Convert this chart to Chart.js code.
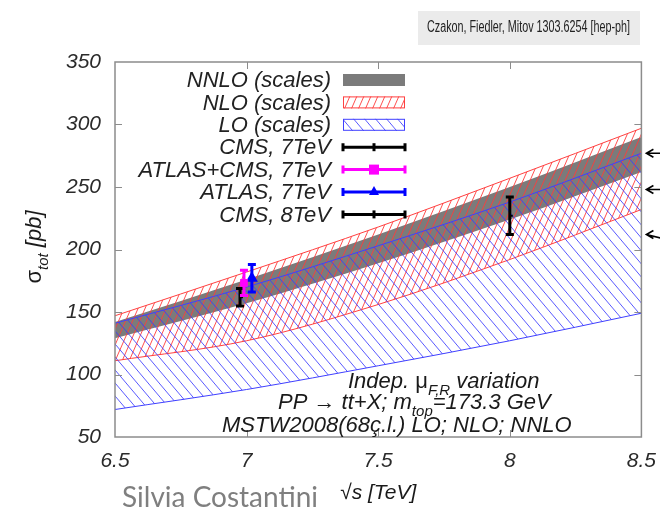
<!DOCTYPE html>
<html>
<head>
<meta charset="utf-8">
<script src="https://cdn.jsdelivr.net/npm/chart.js@4/dist/chart.umd.min.js"></script>
<style>
  html, body { margin: 0; padding: 0; background: #fff; }
  .chart-wrap { width: 660px; height: 517px; position: relative; }
</style>
</head>
<body>
<div class="chart-wrap"><canvas id="ttbar-xsec"></canvas></div>
<script>
// theory bands (pb) vs sqrt(s) in TeV
const energies = [6.5, 7, 7.5, 8, 8.5];
const nnloUp = [142, 176, 212, 250, 290];
const nnloDown = [129, 157, 189, 224, 262];
const nloUp = [147, 182, 218, 257, 297];
const nloDown = [111, 127, 156, 192, 232];
const loUp = [141, 170, 203, 238, 277];
const loDown = [72, 88, 107, 127, 149];

// measurements
const measNames = ["CMS, 7TeV", "ATLAS+CMS, 7TeV", "ATLAS, 7TeV", "CMS, 8TeV"];
const measSqrtS = [6.975, 6.99, 7.02, 8.0];
const measXsec = [161.9, 173.3, 177, 227];
const measErr = [7, 10.1, 11, 15];
const measColors = ["#000000", "#ff00ff", "#0000ff", "#000000"];

const bandNames = ["NNLO (scales)", "NLO (scales)", "LO (scales)"];
const arrowValues = [277, 248, 212];
const xTicks = [6.5, 7, 7.5, 8, 8.5];
const yTicks = [50, 100, 150, 200, 250, 300, 350];

const FONT = "'Liberation Sans', Arial, Helvetica, sans-serif";
const canvas = document.getElementById("ttbar-xsec");
const ctx0 = canvas.getContext("2d");

function hatch(color, w, h, dir) {
  const c = document.createElement("canvas");
  c.width = w;
  c.height = h;
  const g = c.getContext("2d");
  g.strokeStyle = color;
  g.lineWidth = 1;
  for (const dx of [-w, 0, w]) {
    g.beginPath();
    if (dir === "/") {
      g.moveTo(dx, h);
      g.lineTo(dx + w, 0);
    } else {
      g.moveTo(dx, 0);
      g.lineTo(dx + w, h);
    }
    g.stroke();
  }
  return ctx0.createPattern(c, "repeat");
}

const redHatch = hatch("rgba(255,60,60,0.9)", 7, 16, "/");
const blueHatch = hatch("rgba(60,60,255,0.85)", 11, 13, "\\");
const GRAY = "#7b7b7b";

const pts = (ys) => energies.map((x, i) => ({ x: x, y: ys[i] }));

function band(label, up, down, fillStyle, edge, order) {
  const common = {
    pointRadius: 0,
    borderWidth: edge ? 1 : 0,
    borderColor: edge || "rgba(0,0,0,0)",
    cubicInterpolationMode: "monotone",
    order: order,
  };
  return [
    Object.assign({ label: label, data: pts(up), fill: "+1", backgroundColor: fillStyle }, common),
    Object.assign({ label: label + " low", data: pts(down), fill: false }, common),
  ];
}

const pointStyles = ["dash", "rect", "triangle", "dash"];
const measSets = measNames.map((name, i) => ({
  label: name,
  data: [{ x: measSqrtS[i], y: measXsec[i] }],
  showLine: false,
  pointStyle: pointStyles[i],
  pointRadius: i === 1 ? 4 : i === 2 ? 5 : 3,
  pointBorderWidth: 2,
  pointBackgroundColor: measColors[i],
  pointBorderColor: measColors[i],
  order: 1,
}));

// draw text with subscript pieces; parts = [[text, isSub, upright]]
function richText(ctx, parts, x, y, size, align) {
  const fontOf = (p) =>
    (p[2] ? "" : "italic ") + (p[1] ? Math.round(size * 0.7) : size) + "px " + FONT;
  let total = 0;
  for (const p of parts) {
    ctx.font = fontOf(p);
    total += ctx.measureText(p[0]).width;
  }
  let cx = align === "center" ? x - total / 2 : align === "right" ? x - total : x;
  ctx.textAlign = "left";
  ctx.textBaseline = "alphabetic";
  for (const p of parts) {
    ctx.font = fontOf(p);
    ctx.fillText(p[0], cx, p[1] ? y + size * 0.3 : y);
    cx += ctx.measureText(p[0]).width;
  }
}

const framePlugin = {
  id: "frame",
  afterDatasetsDraw(chart) {
    const { ctx, chartArea: a, scales } = chart;
    ctx.save();
    ctx.strokeStyle = "#8c8c8c";
    ctx.lineWidth = 1.5;
    ctx.strokeRect(a.left, a.top, a.right - a.left, a.bottom - a.top);
    ctx.lineWidth = 1;
    ctx.beginPath();
    yTicks.slice(1, -1).forEach((v) => {
      const y = Math.round(scales.y.getPixelForValue(v)) + 0.5;
      ctx.moveTo(a.left, y); ctx.lineTo(a.left + 7, y);
      ctx.moveTo(a.right, y); ctx.lineTo(a.right - 7, y);
    });
    xTicks.slice(1, -1).forEach((v) => {
      const x = Math.round(scales.x.getPixelForValue(v)) + 0.5;
      ctx.moveTo(x, a.top); ctx.lineTo(x, a.top + 7);
      ctx.moveTo(x, a.bottom); ctx.lineTo(x, a.bottom - 7);
    });
    ctx.stroke();
    ctx.restore();
  },
};

const errorBarPlugin = {
  id: "errorBars",
  afterDatasetsDraw(chart) {
    const { ctx, scales } = chart;
    ctx.save();
    ctx.lineWidth = 3;
    measXsec.forEach((v, i) => {
      const x = scales.x.getPixelForValue(measSqrtS[i]);
      const yHi = scales.y.getPixelForValue(v + measErr[i]);
      const yLo = scales.y.getPixelForValue(v - measErr[i]);
      ctx.strokeStyle = measColors[i];
      ctx.beginPath();
      ctx.moveTo(x, yHi); ctx.lineTo(x, yLo);
      ctx.moveTo(x - 4, yHi); ctx.lineTo(x + 4, yHi);
      ctx.moveTo(x - 4, yLo); ctx.lineTo(x + 4, yLo);
      ctx.stroke();
    });
    ctx.restore();
  },
};

const legendPlugin = {
  id: "bandLegend",
  afterDraw(chart) {
    const ctx = chart.ctx;
    const names = bandNames.concat(measNames);
    const textRight = 331, x0 = 343, x1 = 405;
    ctx.save();
    names.forEach((name, i) => {
      const y = 80 + i * 22.4;
      ctx.font = "italic 22px " + FONT;
      ctx.fillStyle = "#222";
      ctx.textAlign = "right";
      ctx.textBaseline = "middle";
      ctx.fillText(name, textRight, y + 1);
      if (i === 0) {
        ctx.fillStyle = GRAY;
        ctx.fillRect(x0, y - 6, x1 - x0, 12);
      } else if (i < 3) {
        ctx.fillStyle = i === 1 ? redHatch : blueHatch;
        ctx.fillRect(x0, y - 6, x1 - x0, 12);
        ctx.strokeStyle = i === 1 ? "#ff4040" : "#4040ff";
        ctx.lineWidth = 1;
        ctx.strokeRect(x0 + 0.5, y - 5.5, x1 - x0 - 1, 11);
      } else {
        const m = i - 3, c = measColors[m], xm = (x0 + x1) / 2;
        ctx.strokeStyle = c;
        ctx.fillStyle = c;
        ctx.lineWidth = 3;
        ctx.beginPath();
        ctx.moveTo(x0, y); ctx.lineTo(x1, y);
        ctx.moveTo(x0, y - 4); ctx.lineTo(x0, y + 4);
        ctx.moveTo(x1, y - 4); ctx.lineTo(x1, y + 4);
        ctx.stroke();
        if (m === 1) {
          ctx.fillRect(xm - 5, y - 5, 10, 10);
        } else if (m === 2) {
          ctx.beginPath();
          ctx.moveTo(xm, y - 6); ctx.lineTo(xm + 5, y + 3); ctx.lineTo(xm - 5, y + 3);
          ctx.closePath();
          ctx.fill();
        } else {
          ctx.beginPath();
          ctx.moveTo(xm, y - 4); ctx.lineTo(xm, y + 4);
          ctx.stroke();
        }
      }
    });
    ctx.restore();
  },
};

const annotationPlugin = {
  id: "annotations",
  afterDraw(chart) {
    const { ctx, chartArea: a, scales } = chart;
    ctx.save();
    ctx.fillStyle = "#1a1a1a";

    // physics setup, bottom right of the frame
    richText(ctx, [["Indep. "], ["\u03bc", false, true], ["F,R", true], [" variation"]], 348, 388, 22, "left");
    richText(ctx, [["PP \u2192 tt+X; m"], ["top", true], ["=173.3 GeV"]], 278, 409, 22, "left");
    richText(ctx, [["MSTW2008(68\u00e7.l.) LO; NLO; NNLO"]], 222, 432, 22, "left");

    // axis titles
    richText(ctx, [["\u221as [TeV]"]], (a.left + a.right) / 2, 499, 21, "center");
    ctx.save();
    ctx.translate(34, 247);
    ctx.rotate(-Math.PI / 2);
    richText(ctx, [["\u03c3", false, true], ["tot", true], [" [pb]"]], 0, 7, 22, "center");
    ctx.restore();

    // arrows on the right edge
    ctx.strokeStyle = "#000";
    ctx.lineWidth = 1.6;
    arrowValues.forEach((v, i) => {
      const y = scales.y.getPixelForValue(v);
      const xh = a.right + 5;
      const tilt = i === 2 ? 4 : 0;
      ctx.beginPath();
      ctx.moveTo(xh, y); ctx.lineTo(xh + 16, y + tilt);
      ctx.moveTo(xh + 7, y - 4); ctx.lineTo(xh, y); ctx.lineTo(xh + 7, y + 4);
      ctx.stroke();
    });

    // reference box
    ctx.fillStyle = "#ebebeb";
    ctx.fillRect(418, 11, 222, 34);
    ctx.fillStyle = "#222";
    ctx.font = "16px " + FONT;
    ctx.textAlign = "left";
    ctx.textBaseline = "middle";
    ctx.fillText("Czakon, Fiedler, Mitov 1303.6254 [hep-ph]", 427, 28, 203);

    // speaker credit
    ctx.fillStyle = "#7f7f7f";
    ctx.font = "28px Lato, 'Open Sans', sans-serif";
    ctx.textBaseline = "alphabetic";
    ctx.fillText("Silvia Costantini", 122, 507);
    ctx.restore();
  },
};

new Chart(canvas, {
  type: "line",
  data: {
    datasets: [
      ...band("NNLO (scales)", nnloUp, nnloDown, GRAY, null, 6),
      ...band("NLO (scales)", nloUp, nloDown, redHatch, "#ff4040", 5),
      ...band("LO (scales)", loUp, loDown, blueHatch, "#4040ff", 4),
      ...measSets,
    ],
  },
  options: {
    responsive: true,
    maintainAspectRatio: false,
    animation: false,
    events: [],
    layout: { padding: { top: 62, right: 18, left: 0, bottom: 0 } },
    scales: {
      x: {
        type: "linear",
        min: 6.5,
        max: 8.5,
        afterFit: (s) => { s.height = 80; },
        afterBuildTicks: (s) => { s.ticks = xTicks.map((v) => ({ value: v })); },
        grid: { display: false },
        border: { display: false },
        ticks: {
          padding: 4,
          color: "#2a2a2a",
          font: { family: FONT, size: 21, style: "italic" },
          callback: (v) => String(v),
        },
      },
      y: {
        min: 50,
        max: 350,
        afterFit: (s) => { s.width = 115; },
        afterBuildTicks: (s) => { s.ticks = yTicks.map((v) => ({ value: v })); },
        grid: { display: false },
        border: { display: false },
        ticks: {
          padding: 6,
          color: "#2a2a2a",
          font: { family: FONT, size: 21, style: "italic" },
        },
      },
    },
    plugins: {
      legend: { display: false },
      tooltip: { enabled: false },
      filler: { propagate: false },
    },
  },
  plugins: [framePlugin, errorBarPlugin, legendPlugin, annotationPlugin],
});
</script>
</body>
</html>
